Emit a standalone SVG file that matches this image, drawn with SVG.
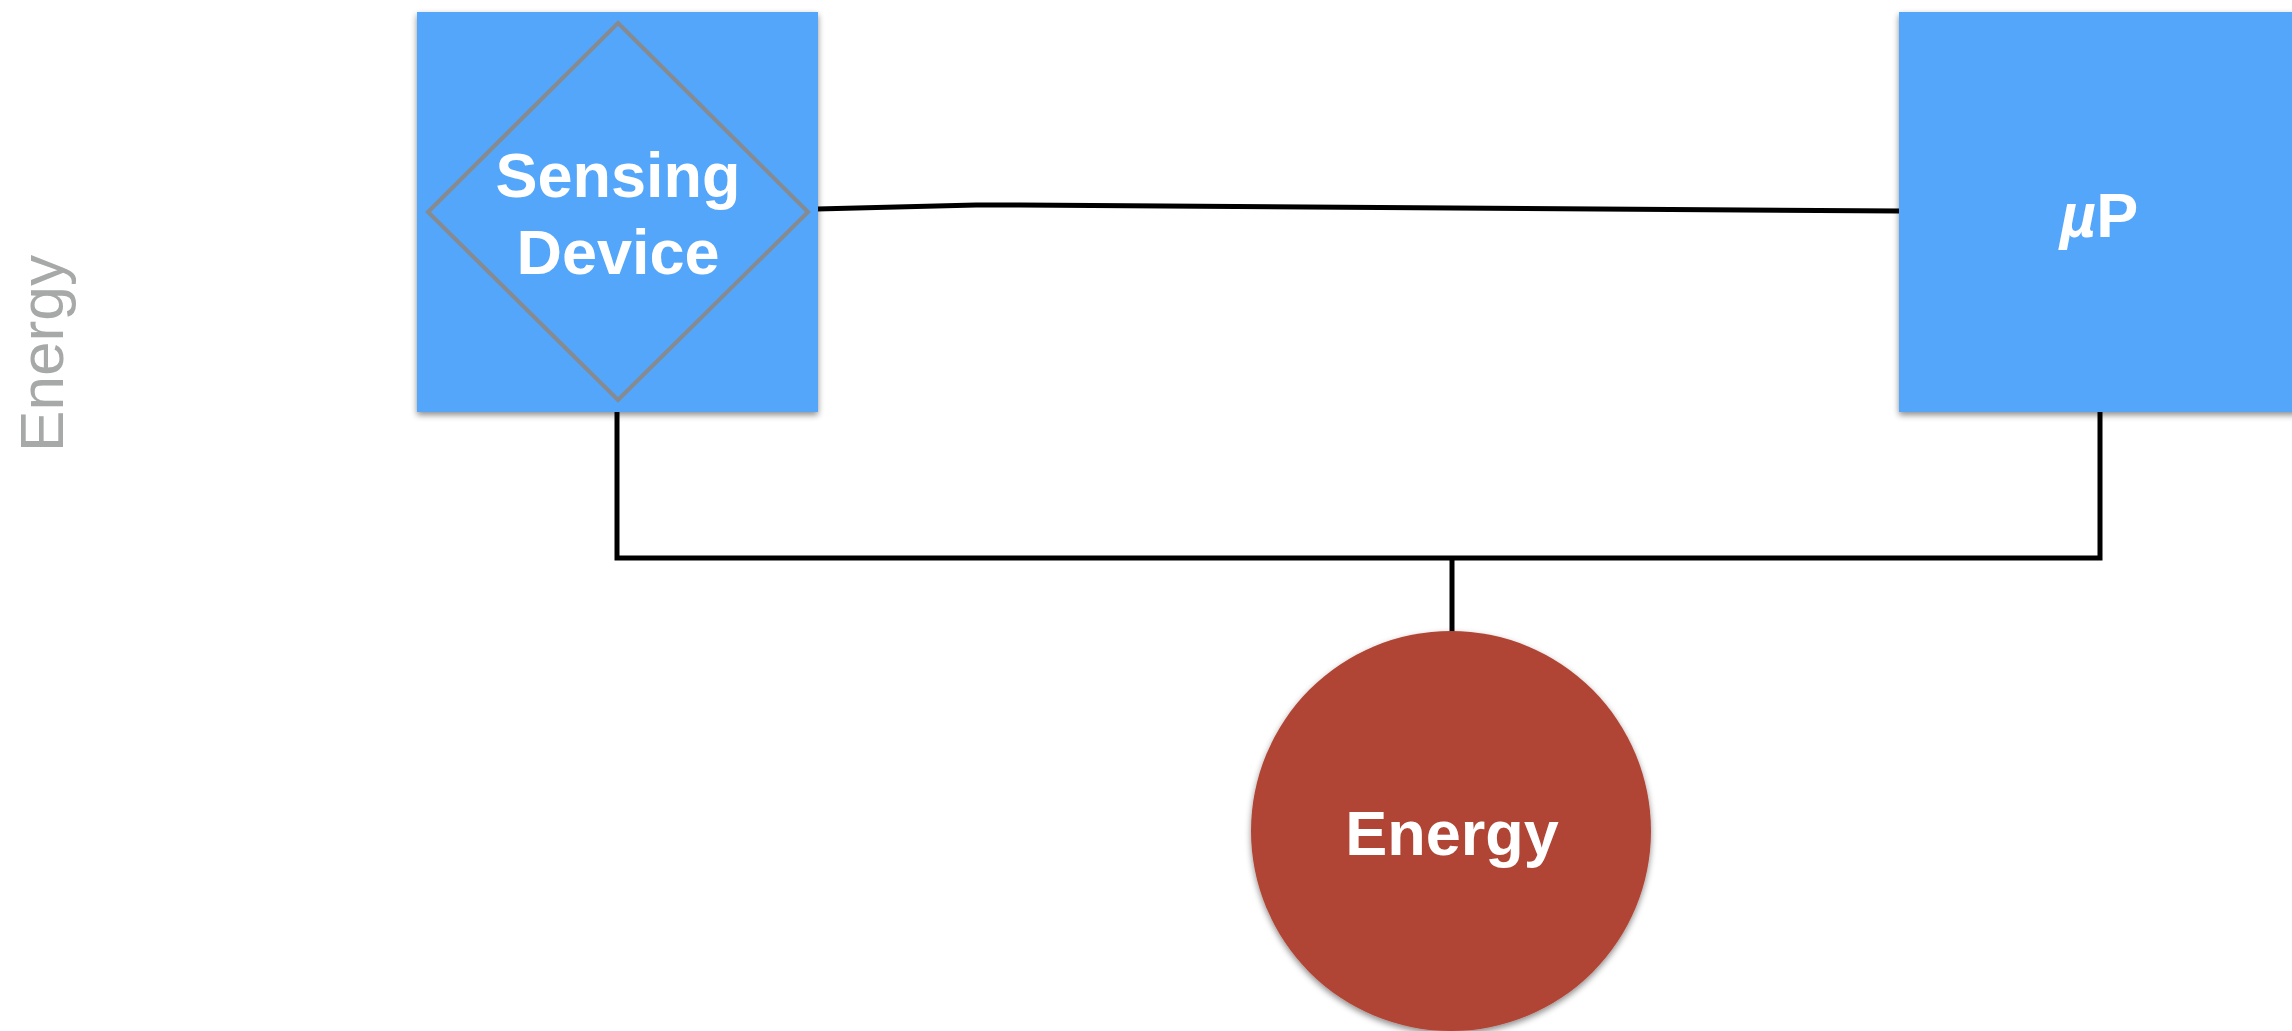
<svg xmlns="http://www.w3.org/2000/svg" width="2292" height="1031" viewBox="0 0 2292 1031">
<defs>
<filter id="sh" x="-10%" y="-10%" width="120%" height="120%">
<feDropShadow dx="0" dy="3" stdDeviation="3" flood-color="#000" flood-opacity="0.45"/>
</filter>
<style>
.box{fill:#52a6f9;filter:url(#sh)}
.lbl{font-family:"Liberation Sans",Arial,sans-serif;font-weight:bold;font-size:63px;fill:#fff;text-anchor:middle}
.conn{fill:none;stroke:#000;stroke-width:5}
</style>
</defs>
<rect width="2292" height="1031" fill="#fff"/>
<text transform="translate(63,452) rotate(-90)" font-family="'Liberation Sans',Arial,sans-serif" font-size="62" fill="#a6a9a7" textLength="197" lengthAdjust="spacingAndGlyphs">Energy</text>
<g id="connectors">
<polyline class="conn" points="817,209 976,205 1020,205 1899,211"/>
<polyline class="conn" points="617,412 617,558 2100,558 2100,412"/>
<line class="conn" x1="1452" y1="558" x2="1452" y2="632"/>
</g>
<g id="sensing">
<rect class="box" x="417" y="12" width="401" height="400"/>
<polygon points="618,23 808,212 618,400 428,212" fill="none" stroke="#878a8e" stroke-width="4"/>
<text class="lbl" x="618" y="197">Sensing</text>
<text class="lbl" x="618" y="274">Device</text>
</g>
<g id="up">
<rect class="box" x="1899" y="12" width="400" height="400"/>
<text class="lbl" x="2099" y="237"><tspan font-style="italic">µ</tspan>P</text>
</g>
<g id="energy">
<circle cx="1451" cy="831" r="200" fill="#b14535" filter="url(#sh)"/>
<text class="lbl" x="1452" y="855">Energy</text>
</g>
</svg>
